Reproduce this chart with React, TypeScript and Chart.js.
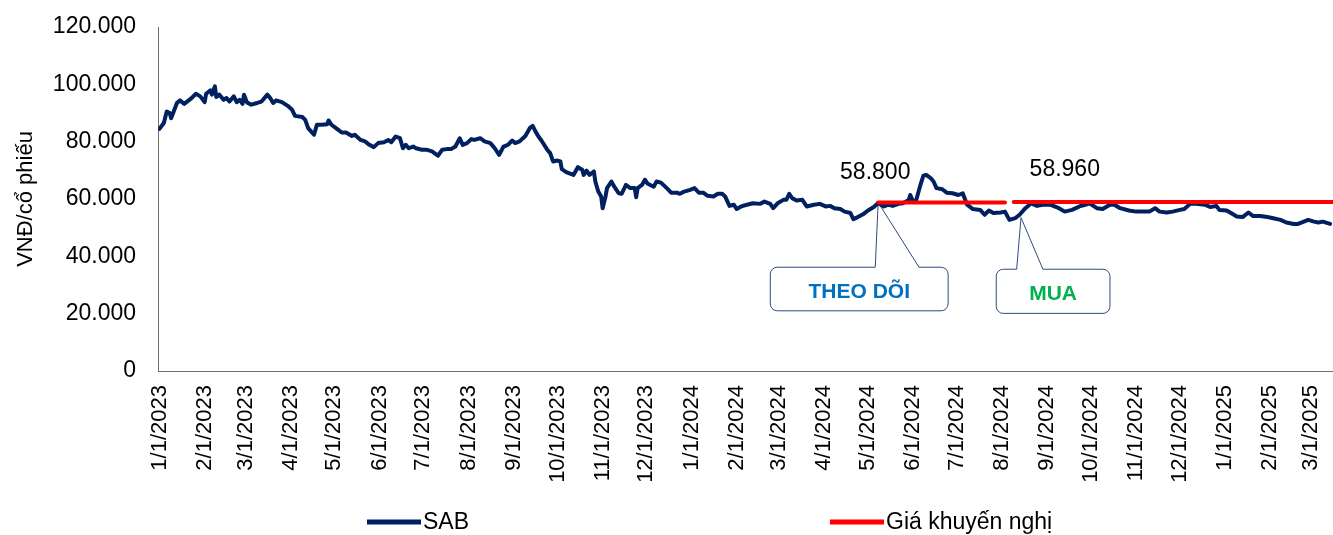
import React, { useEffect, useRef } from 'react';
import { Chart, registerables } from 'chart.js';

Chart.register(...registerables);

const FONT = '"Liberation Sans", Arial, sans-serif';

// Trading dates
const DATES: string[] = [
  '2023-01-01','2023-01-04','2023-01-06','2023-01-08','2023-01-09','2023-01-13','2023-01-15','2023-01-18','2023-01-23','2023-01-26','2023-01-29',
  '2023-02-01','2023-02-02','2023-02-05','2023-02-06','2023-02-08','2023-02-09','2023-02-11','2023-02-14','2023-02-16','2023-02-18','2023-02-21','2023-02-23','2023-02-25','2023-02-27','2023-02-28',
  '2023-03-02','2023-03-05','2023-03-09','2023-03-12','2023-03-16','2023-03-18','2023-03-20','2023-03-22','2023-03-26','2023-03-30',
  '2023-04-02','2023-04-04','2023-04-09','2023-04-11','2023-04-13','2023-04-17','2023-04-19','2023-04-22','2023-04-26','2023-04-27','2023-04-29',
  '2023-05-03','2023-05-06','2023-05-09','2023-05-13','2023-05-15','2023-05-19','2023-05-22','2023-05-25','2023-05-28','2023-05-31',
  '2023-06-04','2023-06-07','2023-06-09','2023-06-12','2023-06-15','2023-06-17','2023-06-19','2023-06-21','2023-06-24','2023-06-26','2023-06-30',
  '2023-07-03','2023-07-07','2023-07-11','2023-07-14','2023-07-17','2023-07-20','2023-07-23','2023-07-26','2023-07-28','2023-07-31',
  '2023-08-03','2023-08-05','2023-08-09','2023-08-12','2023-08-16','2023-08-19','2023-08-22','2023-08-25','2023-08-28','2023-08-31',
  '2023-09-02','2023-09-05','2023-09-09','2023-09-12','2023-09-14','2023-09-16','2023-09-18','2023-09-20','2023-09-24','2023-09-26','2023-09-28',
  '2023-10-01','2023-10-03','2023-10-04','2023-10-07','2023-10-12','2023-10-15','2023-10-18','2023-10-19','2023-10-21','2023-10-23','2023-10-26','2023-10-27','2023-10-29','2023-10-31',
  '2023-11-01','2023-11-03','2023-11-04','2023-11-07','2023-11-09','2023-11-12','2023-11-14','2023-11-17','2023-11-20','2023-11-23','2023-11-24','2023-11-25','2023-11-28','2023-11-30',
  '2023-12-02','2023-12-06','2023-12-08','2023-12-11','2023-12-15','2023-12-18','2023-12-22','2023-12-24','2023-12-27','2023-12-31',
  '2024-01-03','2024-01-06','2024-01-09','2024-01-12','2024-01-16','2024-01-19','2024-01-22','2024-01-24','2024-01-27','2024-01-30',
  '2024-02-01','2024-02-04','2024-02-08','2024-02-12','2024-02-17','2024-02-20','2024-02-24','2024-02-26','2024-02-29',
  '2024-03-04','2024-03-06','2024-03-08','2024-03-10','2024-03-13','2024-03-17','2024-03-20','2024-03-25','2024-03-29',
  '2024-04-02','2024-04-05','2024-04-08','2024-04-12','2024-04-15','2024-04-19','2024-04-21','2024-04-24','2024-04-28',
  '2024-05-01','2024-05-05','2024-05-08','2024-05-12','2024-05-15','2024-05-18','2024-05-22','2024-05-25','2024-05-29','2024-05-30',
  '2024-06-01','2024-06-03','2024-06-06','2024-06-08','2024-06-10','2024-06-13','2024-06-15','2024-06-17','2024-06-21','2024-06-24','2024-06-28',
  '2024-07-02','2024-07-05','2024-07-08','2024-07-12','2024-07-17','2024-07-20','2024-07-23','2024-07-26','2024-07-31',
  '2024-08-03','2024-08-06','2024-08-10','2024-08-13','2024-08-17','2024-08-21','2024-08-25','2024-08-29',
  '2024-09-03','2024-09-09','2024-09-13','2024-09-18','2024-09-23','2024-09-27','2024-09-30',
  '2024-10-05','2024-10-09','2024-10-14','2024-10-17','2024-10-21','2024-10-27',
  '2024-11-01','2024-11-06','2024-11-10','2024-11-14','2024-11-17','2024-11-22','2024-11-26',
  '2024-12-01','2024-12-04','2024-12-08','2024-12-12','2024-12-18','2024-12-22','2024-12-26','2024-12-28',
  '2025-01-02','2025-01-05','2025-01-09','2025-01-13','2025-01-17','2025-01-20','2025-01-25','2025-01-30',
  '2025-02-03','2025-02-08','2025-02-12','2025-02-17','2025-02-20','2025-02-24','2025-02-27',
  '2025-03-03','2025-03-06','2025-03-09','2025-03-14',
];

// SAB closing price (VND/share)
const SAB_PRICES: number[] = [
  84500,86500,90500,90000,88200,93500,94400,93200,95200,96700,95800,
  93800,96700,97900,96400,99300,95600,96400,94600,95200,94000,95800,93800,94600,93200,96400,
  93700,92900,93500,94000,96400,95200,93500,94400,93800,92500,
  91100,89000,88600,87600,84700,82400,85900,85900,86100,87400,85900,
  84400,83200,83200,82000,82400,80600,80100,78900,78100,79500,
  79800,80600,79800,81800,81200,77700,78900,77700,78300,77700,77200,
  77200,76600,75100,77200,77400,77400,78300,81200,78900,79500,
  80900,80600,81200,80100,79500,77700,75400,78300,78900,80400,
  79500,80100,82000,84700,85500,83500,81800,80400,77200,76000,73100,
  73400,73100,70400,69400,68400,71100,70200,68400,69900,68400,69600,66100,62600,60900,
  56800,60900,63800,66100,64300,62000,61800,64900,63800,63800,60600,63800,64900,66700,
  65300,64300,66100,65700,63800,62200,62200,61800,62600,63200,
  63800,62200,62200,61100,60900,61800,61800,60900,57600,58000,
  56500,57400,58000,58500,58300,59100,58300,56800,58500,
  59700,59700,61800,60300,59500,59700,57400,58000,58300,
  57400,57600,56800,56500,55600,55100,53000,53700,54800,
  56000,57200,58600,57400,58000,57600,58300,58500,59700,61400,
  59100,59500,64900,68100,68400,67300,66100,63800,63400,62200,62000,
  61400,62000,58000,56500,56200,54500,56000,55100,55300,
  55600,52700,53300,54500,56800,58500,57600,58000,
  58000,56800,55600,56200,57400,58000,58500,
  56800,56500,58000,58000,56800,56000,
  55600,55600,55600,56800,55600,55300,55600,
  56200,56500,58300,58300,58000,57200,57600,56200,
  56000,55100,53900,53700,55300,54100,54100,53700,
  53300,52700,51800,51300,51300,52100,52700,
  52100,51800,52100,51300,
];

// Recommended price segments
const REC_STARTS: string[] = ['2024-05-08', '2024-08-09'];
const REC_ENDS: string[] = ['2024-08-03', '2025-03-16'];
const REC_PRICES: number[] = [58800, 58960];
const REC_LABEL_POS: [string, number][] = [['2024-05-06', 69100], ['2024-09-13', 70200]];

// Callouts
const CALLOUT_TEXTS: string[] = ['THEO DÕI', 'MUA'];
const CALLOUT_COLORS: string[] = ['#0070C0', '#00B050'];
const CALLOUT_ANCHORS: [string, number][] = [['2024-05-08', 58800], ['2024-08-14', 53500]];
const CALLOUT_BOXES: [string, string, number, number][] = [
  ['2024-02-24', '2024-06-25', 36200, 21000],
  ['2024-07-28', '2024-10-14', 35500, 20100],
];
const CALLOUT_BASES: [string, string][] = [['2024-05-06', '2024-06-05'], ['2024-08-11', '2024-08-29']];

// Axis
const X_MIN = '2022-12-31';
const X_MAX = '2025-03-16';
const X_TICK_LABELS: string[] = [
  '1/1/2023','2/1/2023','3/1/2023','4/1/2023','5/1/2023','6/1/2023','7/1/2023','8/1/2023','9/1/2023','10/1/2023','11/1/2023','12/1/2023',
  '1/1/2024','2/1/2024','3/1/2024','4/1/2024','5/1/2024','6/1/2024','7/1/2024','8/1/2024','9/1/2024','10/1/2024','11/1/2024','12/1/2024',
  '1/1/2025','2/1/2025','3/1/2025',
];
const Y_MIN = 0;
const Y_MAX = 120000;
const Y_STEP = 20000;
const Y_TITLE = 'VNĐ/cổ phiếu';
const SERIES_NAMES: string[] = ['SAB', 'Giá khuyến nghị'];

const BASE = Date.UTC(2023, 0, 1);
const toDay = (s: string) => {
  const [y, m, d] = s.split('-').map(Number);
  return (Date.UTC(y, m - 1, d) - BASE) / 86400000;
};
const mdyToDay = (s: string) => {
  const [m, d, y] = s.split('/').map(Number);
  return (Date.UTC(y, m - 1, d) - BASE) / 86400000;
};
const fmtNum = (v: number) => String(Math.round(v)).replace(/\B(?=(\d{3})+(?!\d))/g, '.');

const NAVY = '#002060';
const RED = '#FF0000';
const AXIS_COLOR = '#6E6E6E';

const annotationPlugin = {
  id: 'sabAnnotations',
  beforeDatasetsDraw(chart: any) {
    const ctx = chart.ctx;
    const xs = chart.scales.x;
    const ys = chart.scales.y;
    ctx.save();
    CALLOUT_TEXTS.forEach((text, i) => {
      const [l, r, t, b] = CALLOUT_BOXES[i];
      const left = xs.getPixelForValue(toDay(l));
      const right = xs.getPixelForValue(toDay(r));
      const top = ys.getPixelForValue(t);
      const bottom = ys.getPixelForValue(b);
      const ax = xs.getPixelForValue(toDay(CALLOUT_ANCHORS[i][0]));
      const ay = ys.getPixelForValue(CALLOUT_ANCHORS[i][1]);
      const b1 = xs.getPixelForValue(toDay(CALLOUT_BASES[i][0]));
      const b2 = xs.getPixelForValue(toDay(CALLOUT_BASES[i][1]));
      const rad = 7;
      ctx.beginPath();
      ctx.moveTo(b1, top);
      ctx.lineTo(ax, ay);
      ctx.lineTo(b2, top);
      ctx.lineTo(right - rad, top);
      ctx.arcTo(right, top, right, top + rad, rad);
      ctx.lineTo(right, bottom - rad);
      ctx.arcTo(right, bottom, right - rad, bottom, rad);
      ctx.lineTo(left + rad, bottom);
      ctx.arcTo(left, bottom, left, bottom - rad, rad);
      ctx.lineTo(left, top + rad);
      ctx.arcTo(left, top, left + rad, top, rad);
      ctx.closePath();
      ctx.fillStyle = '#FFFFFF';
      ctx.fill();
      ctx.strokeStyle = '#2F4A7F';
      ctx.lineWidth = 1;
      ctx.stroke();
      ctx.fillStyle = CALLOUT_COLORS[i];
      ctx.font = `bold 21px ${FONT}`;
      ctx.textAlign = 'center';
      ctx.textBaseline = 'middle';
      ctx.fillText(text, (left + right) / 2, (top + bottom) / 2 + 3);
    });
    ctx.restore();
  },
  afterDatasetsDraw(chart: any) {
    const ctx = chart.ctx;
    const xs = chart.scales.x;
    const ys = chart.scales.y;
    ctx.save();
    ctx.fillStyle = '#000000';
    ctx.font = `23px ${FONT}`;
    ctx.textAlign = 'center';
    ctx.textBaseline = 'middle';
    REC_PRICES.forEach((p, i) => {
      const [d, v] = REC_LABEL_POS[i];
      ctx.fillText(fmtNum(p), xs.getPixelForValue(toDay(d)), ys.getPixelForValue(v));
    });
    ctx.restore();
  },
  afterDraw(chart: any) {
    const ctx = chart.ctx;
    const ds = chart.data.datasets;
    const starts = [367, 830];
    const y = 522;
    ctx.save();
    ds.forEach((d: any, i: number) => {
      const x0 = starts[i];
      ctx.strokeStyle = d.borderColor;
      ctx.lineWidth = 5;
      ctx.lineCap = 'butt';
      ctx.beginPath();
      ctx.moveTo(x0, y);
      ctx.lineTo(x0 + 54, y);
      ctx.stroke();
      ctx.fillStyle = '#000000';
      ctx.font = `23px ${FONT}`;
      ctx.textAlign = 'left';
      ctx.textBaseline = 'middle';
      ctx.fillText(d.label, x0 + 56, y + 1);
    });
    ctx.restore();
  },
};

export default function App() {
  const ref = useRef<HTMLCanvasElement>(null);
  useEffect(() => {
    if (!ref.current) return;
    const sabData = DATES.map((d, i) => ({ x: toDay(d), y: SAB_PRICES[i] }));
    const recData: { x: number; y: number | null }[] = [];
    REC_PRICES.forEach((p, i) => {
      if (i > 0) recData.push({ x: (toDay(REC_ENDS[i - 1]) + toDay(REC_STARTS[i])) / 2, y: null });
      recData.push({ x: toDay(REC_STARTS[i]), y: p });
      recData.push({ x: toDay(REC_ENDS[i]), y: p });
    });
    const chart = new Chart(ref.current, {
      type: 'line',
      data: {
        datasets: [
          {
            label: SERIES_NAMES[0],
            data: sabData,
            borderColor: NAVY,
            backgroundColor: NAVY,
            borderWidth: 4,
            pointRadius: 0,
            tension: 0,
            borderJoinStyle: 'round',
            borderCapStyle: 'round',
            order: 2,
          },
          {
            label: SERIES_NAMES[1],
            data: recData as any,
            borderColor: RED,
            backgroundColor: RED,
            borderWidth: 4,
            pointRadius: 0,
            spanGaps: false,
            borderCapStyle: 'round',
            order: 1,
          },
        ],
      },
      options: {
        responsive: false,
        animation: false,
        devicePixelRatio: 1,
        layout: { padding: { top: 27, left: 0, right: 0, bottom: 0 } },
        plugins: {
          legend: { display: false },
          tooltip: { enabled: false },
        },
        scales: {
          x: {
            type: 'linear',
            min: toDay(X_MIN),
            max: toDay(X_MAX),
            grid: { display: false, drawTicks: false },
            border: { display: true, color: AXIS_COLOR, width: 1 },
            ticks: {
              autoSkip: false,
              maxRotation: 90,
              minRotation: 90,
              padding: 14,
              color: '#000000',
              font: { family: FONT, size: 22 },
              callback: (_v: any, idx: number) => X_TICK_LABELS[idx],
            },
            afterBuildTicks: (s: any) => {
              s.ticks = X_TICK_LABELS.map((t) => ({ value: mdyToDay(t) }));
            },
            afterFit: (s: any) => {
              s.height = 164;
              s.paddingLeft = 0;
              s.paddingRight = 0;
              s.paddingTop = 0;
              s.paddingBottom = 0;
            },
          },
          y: {
            min: Y_MIN,
            max: Y_MAX,
            grid: { display: false, drawTicks: false },
            border: { display: true, color: AXIS_COLOR, width: 1 },
            ticks: {
              stepSize: Y_STEP,
              padding: 22,
              color: '#000000',
              font: { family: FONT, size: 23 },
              callback: (v: any) => fmtNum(Number(v)),
            },
            title: {
              display: true,
              text: Y_TITLE,
              color: '#000000',
              font: { family: FONT, size: 22 },
              padding: { top: 13, bottom: 0 },
            },
            afterFit: (s: any) => {
              s.width = 158;
              s.paddingLeft = 0;
              s.paddingRight = 0;
              s.paddingTop = 0;
              s.paddingBottom = 0;
            },
          },
        },
      },
      plugins: [annotationPlugin],
    } as any);
    return () => chart.destroy();
  }, []);
  return (
    <div style={{ position: 'fixed', left: 0, top: 0, width: 1333, height: 535, background: '#FFFFFF' }}>
      <canvas ref={ref} width={1333} height={535} style={{ display: 'block' }} />
    </div>
  );
}
